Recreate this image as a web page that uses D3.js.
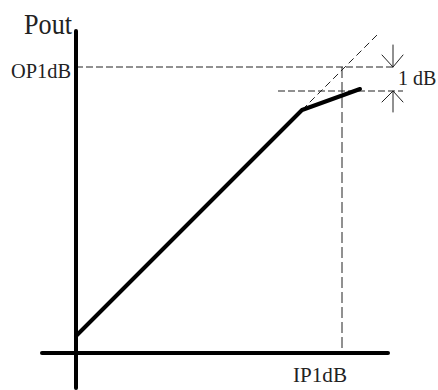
<!DOCTYPE html>
<html>
<head>
<meta charset="utf-8">
<script src="https://cdn.jsdelivr.net/npm/d3@7"></script>
<style>
  body { margin: 0; background: #fff; }
  text { font-family: "Liberation Serif", "DejaVu Serif", serif; fill: #222; }
</style>
</head>
<body>
<div id="chart"></div>
<script>
// transfer curve, Pin -> Pout (arbitrary dB units)
var curvePin  = [0, 22.6, 28.4];
var curvePout = [1.7, 24.3, 26.4];
// ideal linear extension past the knee
var linearPin  = [22.6, 30.3];
var linearPout = [24.3, 32.0];
// 1 dB compression point
var ip1dB = 26.6;
var op1dB = 28.6;
var compressedPout = 26.2;
var labels = ["Pout", "OP1dB", "IP1dB", "1 dB"];

var width = 438, height = 390;

var x = d3.scaleLinear().domain([-3.4, 31.2]).range([42, 388]);
var y = d3.scaleLinear().domain([0, 32]).range([353, 33]);

var svg = d3.select("#chart").append("svg")
    .attr("width", width)
    .attr("height", height);

var line = d3.line()
    .x(function (d) { return x(d[0]); })
    .y(function (d) { return y(d[1]); });

function seg(pts, w, dash, col) {
    svg.append("path")
        .attr("d", line(pts))
        .attr("fill", "none")
        .attr("stroke", col || "#000")
        .attr("stroke-width", w)
        .attr("stroke-linecap", dash ? "butt" : "round")
        .attr("stroke-linejoin", "round")
        .attr("stroke-dasharray", dash || null);
}

// dashed guides
seg([[0, op1dB], [31.7, op1dB]], 1, "7,3", "#222");
seg([[20.2, compressedPout], [32.7, compressedPout]], 1, "7,3", "#222");
seg([[ip1dB, op1dB], [ip1dB, 0]], 1, "11,4", "#222");
seg(d3.zip(linearPin, linearPout), 1, "7,4", "#222");

// axes
seg([[-3.4, 0], [31.2, 0]], 4);
seg([[0, -3.5], [0, 32.2]], 4);

// curve
seg(d3.zip(curvePin, curvePout), 4);

// 1 dB arrows
var ax = 31.7;
seg([[ax, op1dB + 2.2], [ax, op1dB]], 1, null, "#222");
seg([[ax - 1.1, op1dB + 1.2], [ax, op1dB], [ax + 1.0, op1dB + 1.2]], 1, null, "#222");
seg([[ax, compressedPout - 2.1], [ax, compressedPout]], 1, null, "#222");
seg([[ax - 1.1, compressedPout - 1.1], [ax, compressedPout], [ax + 1.0, compressedPout - 1.1]], 1, null, "#222");

// labels
svg.append("text")
    .attr("x", x(0) - 52).attr("y", y(32) + 1)
    .attr("font-size", 29)
    .attr("textLength", 48).attr("lengthAdjust", "spacingAndGlyphs")
    .text(labels[0]);

svg.append("text")
    .attr("x", x(0) - 65).attr("y", y(op1dB) + 11)
    .attr("font-size", 21)
    .attr("textLength", 60).attr("lengthAdjust", "spacingAndGlyphs")
    .text(labels[1]);

svg.append("text")
    .attr("x", x(ip1dB) - 49).attr("y", 382)
    .attr("font-size", 22)
    .attr("textLength", 54).attr("lengthAdjust", "spacingAndGlyphs")
    .text(labels[2]);

svg.append("text")
    .attr("x", x(ax) + 5).attr("y", y(compressedPout) - 6)
    .attr("font-size", 20)
    .text(labels[3]);
</script>
</body>
</html>
